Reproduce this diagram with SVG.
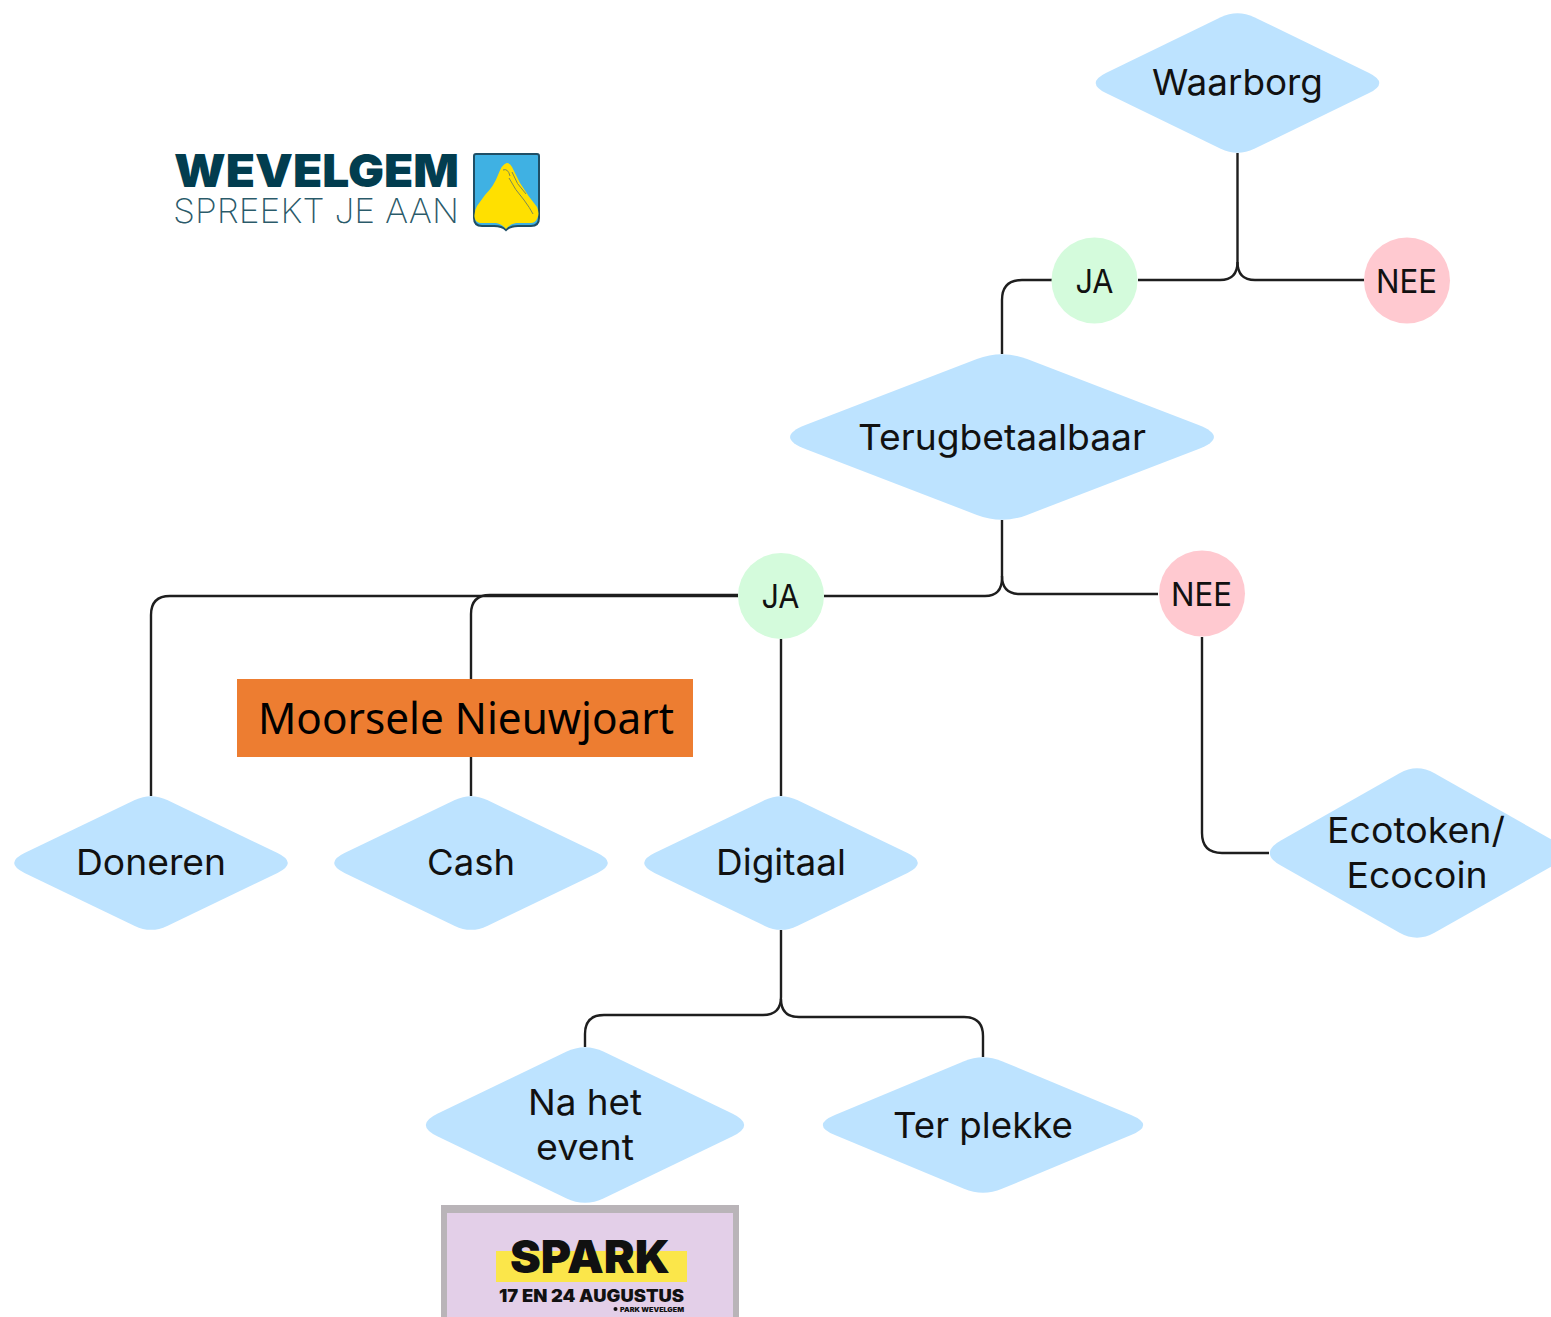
<svg xmlns="http://www.w3.org/2000/svg" width="1551" height="1317" viewBox="0 0 1551 1317">
<style>
.d{fill:#bde3ff}
.ja{fill:#d4fbdc}
.nee{fill:#ffc9d0}
.c{fill:none;stroke:#1e1e1e;stroke-width:2.4}
.l{font-family:Inter,"Noto Sans",sans-serif;font-size:36px;fill:#111;text-anchor:middle}
.s{font-family:Inter,"Noto Sans",sans-serif;font-size:33px;fill:#111;text-anchor:middle}
.m{font-family:"Noto Sans","Open Sans",sans-serif;font-size:44px;fill:#000}
.w{font-family:Inter,"Liberation Sans",sans-serif;fill:#023d4f}
.p{font-family:Inter,"Liberation Sans",sans-serif;fill:#111;font-weight:900}
</style>
<defs>
<path id="dm" d="M.118 -.939L.92 -.148Q1.07 0 .92 .148L.118 .939Q0 1.055 -.118 .939L-.92 .148Q-1.07 0 -.92 -.148L-.118 -.939Q0 -1.055 .118 -.939Z"/>
</defs>
<rect width="1551" height="1317" fill="#fff"/>
<g id="connectors">
<path class="c" d="M1237.5 153V262Q1237.5 280 1220 280H1138"/>
<path class="c" d="M1237.5 262Q1237.5 280 1255 280H1364"/>
<path class="c" d="M1052 280H1022Q1002 280 1002 300V354"/>
<path class="c" d="M1002 520V578Q1002 596 985 596H824"/>
<path class="c" d="M1002 576Q1002 594 1020 594H1158"/>
<path class="c" d="M738 596H170Q151 596 151 615V796"/>
<path class="c" d="M738 595H490Q471 595 471 614V796"/>
<path class="c" d="M781 639V796"/>
<path class="c" d="M1202 637V833Q1202 853 1222 853H1269"/>
<path class="c" d="M781 930V997Q781 1015 763 1015H604Q585 1015 585 1034V1047"/>
<path class="c" d="M781 999Q781 1017 799 1017H964Q983 1017 983 1036V1057"/>
</g>
<g id="waarborg"><use href="#dm" class="d" transform="translate(1237.5 83) scale(142.5 70)"/><text class="l" x="1237.5" y="95" textLength="171" lengthAdjust="spacingAndGlyphs">Waarborg</text></g>
<g id="ja1"><circle class="ja" cx="1094.5" cy="280.5" r="43"/><text class="s" x="1094.5" y="293" textLength="38" lengthAdjust="spacingAndGlyphs">JA</text></g>
<g id="nee1"><circle class="nee" cx="1407" cy="280.5" r="43"/><text class="s" x="1406.5" y="293" textLength="61" lengthAdjust="spacingAndGlyphs">NEE</text></g>
<g id="terugbetaalbaar"><use href="#dm" class="d" transform="translate(1002 437) scale(213 83)"/><text class="l" x="1002" y="450" textLength="288" lengthAdjust="spacingAndGlyphs">Terugbetaalbaar</text></g>
<g id="ja2"><circle class="ja" cx="781" cy="596" r="43"/><text class="s" x="780.5" y="608" textLength="38" lengthAdjust="spacingAndGlyphs">JA</text></g>
<g id="nee2"><circle class="nee" cx="1202" cy="593.5" r="43"/><text class="s" x="1201.5" y="606" textLength="61" lengthAdjust="spacingAndGlyphs">NEE</text></g>
<g id="doneren"><use href="#dm" class="d" transform="translate(151 863) scale(137.5 67)"/><text class="l" x="151" y="875" textLength="150" lengthAdjust="spacingAndGlyphs">Doneren</text></g>
<g id="cash"><use href="#dm" class="d" transform="translate(471 863) scale(137.5 67)"/><text class="l" x="471" y="875" textLength="88" lengthAdjust="spacingAndGlyphs">Cash</text></g>
<g id="digitaal"><use href="#dm" class="d" transform="translate(781 863) scale(137.5 67)"/><text class="l" x="781" y="875" textLength="130" lengthAdjust="spacingAndGlyphs">Digitaal</text></g>
<g id="ecotoken"><use href="#dm" class="d" transform="translate(1417 853) scale(148 85)"/><text class="l" x="1416" y="843" textLength="178" lengthAdjust="spacingAndGlyphs">Ecotoken/</text><text class="l" x="1417" y="888" textLength="141" lengthAdjust="spacingAndGlyphs">Ecocoin</text></g>
<g id="na-het-event"><use href="#dm" class="d" transform="translate(585 1125) scale(160 78)"/><text class="l" x="585" y="1115" textLength="114" lengthAdjust="spacingAndGlyphs">Na het</text><text class="l" x="585" y="1160" textLength="98" lengthAdjust="spacingAndGlyphs">event</text></g>
<g id="ter-plekke"><use href="#dm" class="d" transform="translate(983 1125) scale(161 68)"/><text class="l" x="983" y="1138" textLength="180" lengthAdjust="spacingAndGlyphs">Ter plekke</text></g>
<g id="moorsele">
<rect x="237" y="679" width="456" height="78" fill="#ed7d31"/>
<text class="m" x="258" y="734" textLength="416" lengthAdjust="spacingAndGlyphs">Moorsele Nieuwjoart</text>
</g>
<g id="logo-wevelgem">
<text class="w" x="174" y="187" font-size="46" font-weight="900" textLength="285" lengthAdjust="spacingAndGlyphs">WEVELGEM</text>
<text class="w" x="173" y="223" font-size="34" font-weight="200" fill-opacity=".85" textLength="286" lengthAdjust="spacingAndGlyphs">SPREEKT JE AAN</text>
<path d="M474 156Q474 154 476 154H537Q539 154 539 156V218Q539 226 531 226H518Q510 226 506 230Q502 226 494 226H482Q474 226 474 218Z" fill="#3fb1e3" stroke="#1f4f66" stroke-width="2"/>
<path d="M506.7 163Q510 163 512 167L520 183Q528 196 537 207Q540 214 537 219Q535 223 531 223H516Q510 224 506 229Q502 224 496 223H480Q475 222 474.5 217Q474 211 477 206L485 195Q494 186 498 175Q502 164 506.7 163Z" fill="#ffe000"/>
<path d="M503 170Q508 168 510 176M509 178Q515 190 524 200Q530 208 533 214M512 172Q516 184 526 194" fill="none" stroke="#7d8a55" stroke-width="1"/>
</g>
<g id="logo-spark">
<rect x="441" y="1205" width="298" height="112" fill="#b9b4b8"/>
<rect x="447" y="1213" width="286" height="104" fill="#e3cfe8"/>
<rect x="496" y="1251" width="191" height="31" fill="#fbe64a"/>
<text class="p" x="510" y="1273" font-size="45" textLength="160" lengthAdjust="spacingAndGlyphs">SPARK</text>
<text class="p" x="499" y="1302" font-size="17" textLength="185" lengthAdjust="spacingAndGlyphs">17 EN 24 AUGUSTUS</text>
<text class="p" x="620" y="1312" font-size="6.5" textLength="64" lengthAdjust="spacingAndGlyphs">PARK WEVELGEM</text>
<circle cx="615.5" cy="1309" r="2" fill="#111"/>
</g>
</svg>
